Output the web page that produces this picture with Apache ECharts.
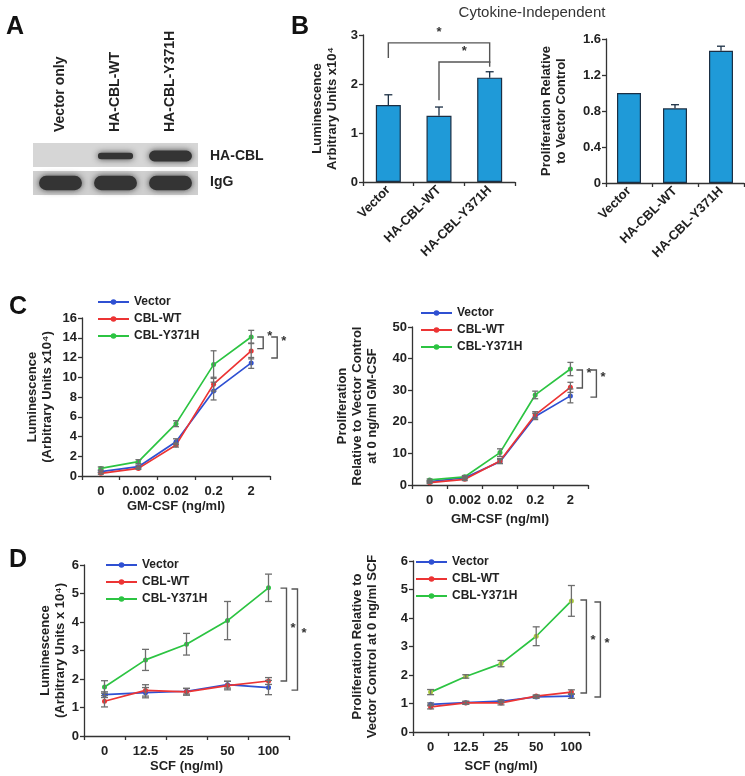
<!DOCTYPE html>
<html>
<head>
<meta charset="utf-8">
<script src="https://cdn.jsdelivr.net/npm/echarts@6/dist/echarts.min.js"></script>
<style>
  html, body { margin: 0; padding: 0; background: #fff; }
  #container { width: 745px; height: 776px; }
</style>
</head>
<body>
<div id="container"></div>
<script>
// ---- data ----
var blotLanes = ['Vector only', 'HA-CBL-WT', 'HA-CBL-Y371H'];
var blotRows = ['HA-CBL', 'IgG'];
var blotHA = [0, 0.6, 1];
var blotIgG = [1, 1, 1];

var bCats = ['Vector', 'HA-CBL-WT', 'HA-CBL-Y371H'];
var bLumMean = [1.57, 1.35, 2.13];
var bLumErr = [0.21, 0.18, 0.12];
var bRelMean = [1.0, 0.83, 1.47];
var bRelErr = [0, 0.04, 0.05];
// [cat1, cat2, top, left end, right end]
var bLumBrackets = [[0, 2, 2.84, 2.53, 2.43], [1, 2, 2.45, 1.67, 2.35]];

var gmCats = ['0', '0.002', '0.02', '0.2', '2'];
var cLumVector = [0.44, 0.94, 3.47, 8.6, 11.45];
var cLumVectorErr = [0.1, 0.15, 0.3, 0.9, 0.55];
var cLumWT = [0.27, 0.77, 3.13, 9.3, 12.66];
var cLumWTErr = [0.1, 0.1, 0.2, 0.7, 0.8];
var cLumY371H = [0.77, 1.45, 5.3, 11.28, 14.08];
var cLumY371HErr = [0.15, 0.2, 0.3, 1.4, 0.67];
var cLumBrackets = [[4, 14.08, 12.9], [4, 14.08, 11.95]];

var cRelVector = [1.06, 2.3, 7.4, 21.7, 28.2];
var cRelVectorErr = [0.3, 0.4, 0.6, 1.0, 2.2];
var cRelWT = [0.74, 1.8, 7.6, 22.2, 30.9];
var cRelWTErr = [0.3, 0.4, 0.8, 1.0, 1.6];
var cRelY371H = [1.6, 2.6, 10.25, 28.5, 36.7];
var cRelY371HErr = [0.3, 0.4, 1.2, 1.2, 2.1];
var cRelBrackets = [[4, 36.4, 30.7], [4, 36.4, 27.8]];

var scfCats = ['0', '12.5', '25', '50', '100'];
var dLumVector = [1.45, 1.52, 1.57, 1.8, 1.7];
var dLumVectorErr = [0.1, 0.18, 0.1, 0.12, 0.25];
var dLumWT = [1.22, 1.6, 1.55, 1.77, 1.93];
var dLumWTErr = [0.2, 0.2, 0.12, 0.15, 0.12];
var dLumY371H = [1.72, 2.67, 3.22, 4.05, 5.2];
var dLumY371HErr = [0.22, 0.37, 0.38, 0.67, 0.48];
var dLumBrackets = [[4, 5.19, 1.93], [4, 5.16, 1.61]];

var dRelVector = [0.97, 1.03, 1.08, 1.23, 1.26];
var dRelVectorErr = [0.05, 0.05, 0.05, 0.05, 0.08];
var dRelWT = [0.88, 1.02, 1.02, 1.26, 1.40];
var dRelWTErr = [0.07, 0.05, 0.07, 0.04, 0.08];
var dRelY371H = [1.40, 1.95, 2.40, 3.36, 4.60];
var dRelY371HErr = [0.09, 0.06, 0.11, 0.33, 0.54];
var dRelBrackets = [[4, 4.63, 1.37], [4, 4.56, 1.23]];

var names = ['Vector', 'CBL-WT', 'CBL-Y371H'];

// ---- styling ----
var FONT = 'Liberation Sans, Arial, sans-serif';
var AX = '#333';
var TXT = '#222';
var BLUE = '#2f50d2', RED = '#ec3434', GREEN = '#2cc442';
var BAR = '#1f9ad8';
var ERR = '#6e6e6e';

var dom = document.getElementById('container');
var myChart = echarts.init(dom, null, { renderer: 'canvas' });

function txt(size, weight) {
  return { color: TXT, fontSize: size, fontWeight: weight || 'bold', fontFamily: FONT };
}

function yAx(gi, max, interval, name, gap) {
  return {
    type: 'value', gridIndex: gi, min: 0, max: max, interval: interval,
    axisLine: { show: true, lineStyle: { color: AX, width: 1.3 } },
    axisTick: { show: true, length: 4, lineStyle: { color: AX, width: 1.3 } },
    splitLine: { show: false },
    axisLabel: Object.assign(txt(13), { margin: 5 }),
    name: name, nameLocation: 'middle', nameGap: gap, nameRotate: 90,
    nameTextStyle: Object.assign(txt(13), { lineHeight: 15 })
  };
}

function xAx(gi, cats, name, gap, rotate) {
  return {
    type: 'category', gridIndex: gi, data: cats,
    axisLine: { show: true, lineStyle: { color: AX, width: 1.3 } },
    axisTick: { show: true, length: 4, lineStyle: { color: AX, width: 1.3 } },
    splitLine: { show: false },
    axisLabel: Object.assign(txt(13), { margin: rotate ? 6 : 9, rotate: rotate || 0, interval: 0 }),
    name: name || '', nameLocation: 'middle', nameGap: gap || 0,
    nameTextStyle: txt(13)
  };
}

function lineS(name, gi, data, color, markColor) {
  return {
    type: 'line', name: name, xAxisIndex: gi, yAxisIndex: gi, data: data,
    symbol: 'circle', symbolSize: 5, z: 3,
    lineStyle: { width: 1.7, color: color },
    itemStyle: { color: markColor || color },
    emphasis: { disabled: true }
  };
}

// error bars, both ways for the lines, upward only for the bars
function errS(gi, means, errs, upOnly, cap) {
  return {
    type: 'custom', xAxisIndex: gi, yAxisIndex: gi, z: 4,
    encode: { x: 0, y: 1 },
    data: means.map(function (m, i) { return [i, m, errs[i]]; }),
    renderItem: function (params, api) {
      var x = api.value(0), y = api.value(1), e = api.value(2);
      if (!e) return null;
      var lo = api.coord([x, upOnly ? y : y - e]);
      var hi = api.coord([x, y + e]);
      var st = { stroke: upOnly ? '#1b2f44' : ERR, lineWidth: 1.3, fill: null };
      var kids = [
        { type: 'line', shape: { x1: lo[0], y1: lo[1], x2: hi[0], y2: hi[1] }, style: st },
        { type: 'line', shape: { x1: hi[0] - cap, y1: hi[1], x2: hi[0] + cap, y2: hi[1] }, style: st }
      ];
      if (!upOnly) kids.push({ type: 'line', shape: { x1: lo[0] - cap, y1: lo[1], x2: lo[0] + cap, y2: lo[1] }, style: st });
      return { type: 'group', children: kids };
    }
  };
}

// right-side "]" brackets with a star
function sideBracketS(gi, brackets, offsets) {
  return {
    type: 'custom', xAxisIndex: gi, yAxisIndex: gi, z: 5,
    encode: { x: 0, y: 1 },
    data: brackets,
    renderItem: function (params, api) {
      var off = offsets[params.dataIndex];
      var a = api.coord([api.value(0), api.value(1)]);
      var b = api.coord([api.value(0), api.value(2)]);
      var x = a[0] + off;
      var st = { stroke: '#555', lineWidth: 1.4, fill: null };
      return {
        type: 'group', children: [
          { type: 'polyline', shape: { points: [[x - 6, a[1]], [x, a[1]], [x, b[1]], [x - 6, b[1]]] }, style: st },
          { type: 'text', style: { text: '*', x: x + 4, y: (a[1] + b[1]) / 2 - 6, fill: '#333', font: 'bold 13px ' + FONT, textAlign: 'left', textVerticalAlign: 'middle' } }
        ]
      };
    }
  };
}

// top brackets between bars
function topBracketS(gi, brackets) {
  return {
    type: 'custom', xAxisIndex: gi, yAxisIndex: gi, z: 5,
    encode: { x: 0, y: 2 },
    data: brackets,
    renderItem: function (params, api) {
      var l = api.coord([api.value(0), api.value(3)]);
      var r = api.coord([api.value(1), api.value(4)]);
      var t = api.coord([api.value(0), api.value(2)])[1];
      var st = { stroke: '#555', lineWidth: 1.4, fill: null };
      return {
        type: 'group', children: [
          { type: 'polyline', shape: { points: [[l[0], l[1]], [l[0], t], [r[0], t], [r[0], r[1]]] }, style: st },
          { type: 'text', style: { text: '*', x: (l[0] + r[0]) / 2, y: t - 4, fill: '#333', font: 'bold 13px ' + FONT, textAlign: 'center', textVerticalAlign: 'bottom' } }
        ]
      };
    }
  };
}

function legendAt(left, top) {
  return {
    data: names, orient: 'vertical', left: left, top: top,
    itemWidth: 31, itemHeight: 7, itemGap: 5, padding: 0,
    selectedMode: false,
    textStyle: txt(12)
  };
}

var blotData = [];
blotHA.forEach(function (v, i) { blotData.push([i, 0, v]); });
blotIgG.forEach(function (v, i) { blotData.push([i, 1, v]); });

var grids = [
  { left: 33, top: 143, width: 165, height: 52 },
  { left: 363, top: 35, width: 152, height: 147 },
  { left: 606, top: 39, width: 138, height: 144 },
  { left: 82, top: 318, width: 188, height: 158 },
  { left: 412, top: 327, width: 176, height: 158 },
  { left: 84, top: 565, width: 205, height: 171 },
  { left: 413, top: 561, width: 176, height: 171 }
].map(function (g) { g.outerBoundsMode = 'none'; g.containLabel = false; return g; });

var blotX = {
  type: 'category', gridIndex: 0, data: blotLanes, position: 'top',
  axisLine: { show: false }, axisTick: { show: false },
  axisLabel: Object.assign(txt(14), { rotate: -90, margin: 11, interval: 0 })
};
var blotY = {
  type: 'category', gridIndex: 0, data: blotRows, inverse: true, position: 'right',
  axisLine: { show: false }, axisTick: { show: false },
  axisLabel: Object.assign(txt(14), { margin: 12, align: 'left' })
};

option = {
  animation: false,
  backgroundColor: '#fff',
  title: [
    { text: 'A', left: 1, top: 10, textStyle: { fontSize: 25, fontWeight: 'bold', color: '#111', fontFamily: FONT } },
    { text: 'B', left: 286, top: 10, textStyle: { fontSize: 25, fontWeight: 'bold', color: '#111', fontFamily: FONT } },
    { text: 'C', left: 4, top: 290, textStyle: { fontSize: 25, fontWeight: 'bold', color: '#111', fontFamily: FONT } },
    { text: 'D', left: 4, top: 543, textStyle: { fontSize: 25, fontWeight: 'bold', color: '#111', fontFamily: FONT } },
    { text: 'Cytokine-Independent', left: 527, top: 0, textAlign: 'center', textStyle: { fontSize: 15, fontWeight: 'normal', color: '#333', fontFamily: FONT } }
  ],
  legend: [legendAt(97, 296), legendAt(420, 307), legendAt(105, 559), legendAt(415, 556)],
  grid: grids,
  xAxis: [
    blotX,
    xAx(1, bCats, '', 0, 45),
    xAx(2, bCats, '', 0, 45),
    xAx(3, gmCats, 'GM-CSF (ng/ml)', 24),
    xAx(4, gmCats, 'GM-CSF (ng/ml)', 28),
    xAx(5, scfCats, 'SCF (ng/ml)', 24),
    xAx(6, scfCats, 'SCF (ng/ml)', 28)
  ],
  yAxis: [
    blotY,
    yAx(1, 3, 1, 'Luminescence\nArbitrary Units x10\u2074', 23),
    yAx(2, 1.6, 0.4, 'Proliferation Relative\nto Vector Control', 37),
    yAx(3, 16, 2, 'Luminescence\n(Arbitrary Units x10\u2074)', 27),
    yAx(4, 50, 10, 'Proliferation\nRelative to Vector Control\nat 0 ng/ml GM-CSF', 32),
    yAx(5, 6, 1, 'Luminescence\n(Arbitrary Units x 10\u2074)', 15),
    yAx(6, 6, 1, 'Proliferation Relative to\nVector Control at 0 ng/ml SCF', 33)
  ],
  series: [
    {
      type: 'custom', xAxisIndex: 0, yAxisIndex: 0,
      data: blotData,
      renderItem: function (params, api) {
        var c = api.coord([api.value(0), api.value(1)]);
        var s = api.size([1, 1]);
        var row = api.value(1), v = api.value(2);
        var kids = [{
          type: 'rect',
          shape: { x: c[0] - s[0] / 2, y: c[1] - s[1] / 2 + (row ? 2 : 0), width: s[0], height: s[1] - 2 },
          style: { fill: row ? '#cfcfcf' : '#d6d6d6' }
        }];
        if (v > 0) {
          var w = s[0] * 0.78 * (0.55 + 0.45 * v);
          var h = s[1] * (row ? 0.55 : 0.42) * v;
          kids.push({
            type: 'rect',
            shape: { x: c[0] - w / 2, y: c[1] - h / 2 + (row ? 1 : 0), width: w, height: h, r: h / 2 },
            style: { fill: '#343434', shadowBlur: 6, shadowColor: 'rgba(30,30,30,0.8)' }
          });
        }
        return { type: 'group', children: kids };
      }
    },
    {
      type: 'bar', xAxisIndex: 1, yAxisIndex: 1, data: bLumMean, barWidth: 25,
      itemStyle: { color: BAR, borderColor: '#1b2f44', borderWidth: 1.2 }
    },
    errS(1, bLumMean, bLumErr, true, 4),
    topBracketS(1, bLumBrackets),
    {
      type: 'bar', xAxisIndex: 2, yAxisIndex: 2, data: bRelMean, barWidth: 24,
      itemStyle: { color: BAR, borderColor: '#1b2f44', borderWidth: 1.2 }
    },
    errS(2, bRelMean, bRelErr, true, 4),

    lineS(names[0], 3, cLumVector, BLUE),
    lineS(names[1], 3, cLumWT, RED),
    lineS(names[2], 3, cLumY371H, GREEN),
    errS(3, cLumVector, cLumVectorErr, false, 3),
    errS(3, cLumWT, cLumWTErr, false, 3),
    errS(3, cLumY371H, cLumY371HErr, false, 3),
    sideBracketS(3, cLumBrackets, [12, 26]),

    lineS(names[0], 4, cRelVector, BLUE),
    lineS(names[1], 4, cRelWT, RED),
    lineS(names[2], 4, cRelY371H, GREEN),
    errS(4, cRelVector, cRelVectorErr, false, 3),
    errS(4, cRelWT, cRelWTErr, false, 3),
    errS(4, cRelY371H, cRelY371HErr, false, 3),
    sideBracketS(4, cRelBrackets, [12, 26]),

    lineS(names[0], 5, dLumVector, BLUE),
    lineS(names[1], 5, dLumWT, RED),
    lineS(names[2], 5, dLumY371H, GREEN),
    errS(5, dLumVector, dLumVectorErr, false, 3.5),
    errS(5, dLumWT, dLumWTErr, false, 3.5),
    errS(5, dLumY371H, dLumY371HErr, false, 3.5),
    sideBracketS(5, dLumBrackets, [18, 29]),

    lineS(names[0], 6, dRelVector, BLUE),
    lineS(names[1], 6, dRelWT, RED),
    lineS(names[2], 6, dRelY371H, GREEN, '#a9c83c'),
    errS(6, dRelVector, dRelVectorErr, false, 3.5),
    errS(6, dRelWT, dRelWTErr, false, 3.5),
    errS(6, dRelY371H, dRelY371HErr, false, 3.5),
    sideBracketS(6, dRelBrackets, [15, 29])
  ]
};

if (option && typeof option === "object") {
  myChart.setOption(option, true);
}
</script>
</body>
</html>
